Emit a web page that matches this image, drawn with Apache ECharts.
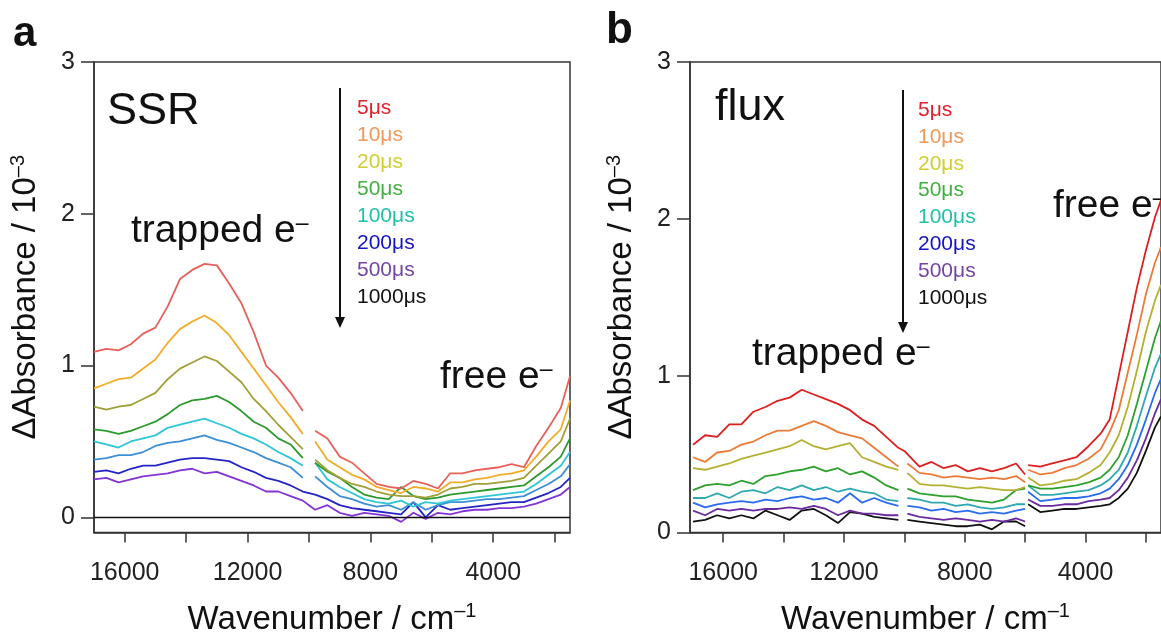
<!DOCTYPE html>
<html><head><meta charset="utf-8">
<script src="https://cdn.jsdelivr.net/npm/echarts@6/dist/echarts.min.js"></script>
<style>html,body{margin:0;padding:0;background:#fff}#c{width:1161px;height:641px}</style>
</head><body><div id="c"></div>
<script>
const FONT = '"Liberation Sans", Arial, Helvetica, sans-serif';

// ---- legend / delays ----
const delays = ['5μs', '10μs', '20μs', '50μs', '100μs', '200μs', '500μs', '1000μs'];
const legendColors = ['#e0202a', '#f0985a', '#cfcf30', '#40b040', '#20c0a8', '#1414c0', '#7444a4', '#111111'];
const ssrColors = ['#e8605a', '#f2ac2a', '#a0a038', '#2d9a2d', '#2ec5d5', '#3c8fd4', '#2424c4', '#8434d4'];
const fluxColors = ['#dc2020', '#ee7a38', '#b4b032', '#2ea02e', '#2fa8b0', '#2a6cf0', '#6a2aa0', '#111111'];

// ---- axis ticks ----
const xTicks = [16000, 14000, 12000, 10000, 8000, 6000, 4000, 2000];
const xLabels = [16000, 12000, 8000, 4000];
const yTicks = [0, 1, 2, 3];

// ---- panel a (SSR) ----
const wnA = [17000,16600,16200,15800,15400,15000,14600,14200,13800,13400,13000,12600,12200,11800,11400,11000,10600,10200,
  10000,
  9800,9400,9000,8600,8200,7800,7400,7000,6600,6200,5800,5400,5000,4600,4200,3800,3400,3000,2600,2200,1800,1500];
const ssr5 = [1.09,1.11,1.10,1.14,1.21,1.25,1.39,1.57,1.63,1.67,1.66,1.54,1.41,1.22,1.00,0.92,0.82,0.70, null,
  0.57,0.52,0.40,0.36,0.29,0.22,0.20,0.19,0.24,0.22,0.19,0.29,0.29,0.31,0.32,0.33,0.35,0.33,0.47,0.59,0.72,0.93];
const ssr10 = [0.85,0.88,0.91,0.92,0.98,1.04,1.15,1.24,1.29,1.33,1.28,1.20,1.09,0.98,0.87,0.76,0.66,0.55, null,
  0.50,0.38,0.33,0.28,0.25,0.20,0.18,0.16,0.20,0.19,0.17,0.23,0.23,0.25,0.26,0.28,0.29,0.31,0.40,0.50,0.58,0.77];
const ssr20 = [0.73,0.71,0.73,0.74,0.78,0.82,0.91,0.98,1.02,1.06,1.03,0.96,0.89,0.78,0.70,0.61,0.53,0.45, null,
  0.38,0.31,0.26,0.22,0.20,0.17,0.15,0.14,0.14,0.13,0.15,0.19,0.20,0.22,0.22,0.23,0.24,0.26,0.34,0.42,0.50,0.65];
const ssr50 = [0.58,0.57,0.55,0.57,0.60,0.63,0.68,0.74,0.77,0.78,0.80,0.76,0.70,0.63,0.59,0.52,0.48,0.39, null,
  0.36,0.30,0.26,0.20,0.15,0.13,0.12,0.20,0.14,0.12,0.13,0.15,0.16,0.17,0.18,0.19,0.20,0.21,0.27,0.33,0.40,0.52];
const ssr100 = [0.50,0.48,0.46,0.50,0.52,0.54,0.59,0.61,0.63,0.65,0.62,0.59,0.55,0.52,0.48,0.43,0.39,0.34, null,
  0.36,0.25,0.20,0.16,0.12,0.10,0.09,0.11,0.07,0.10,0.09,0.11,0.12,0.13,0.14,0.15,0.16,0.17,0.22,0.28,0.34,0.43];
const ssr200 = [0.38,0.39,0.41,0.41,0.43,0.47,0.49,0.50,0.52,0.54,0.51,0.49,0.46,0.43,0.39,0.36,0.33,0.26, null,
  0.27,0.20,0.14,0.12,0.09,0.07,0.08,0.05,0.10,0.05,0.08,0.10,0.10,0.11,0.12,0.12,0.13,0.14,0.18,0.22,0.27,0.35];
const ssr500 = [0.30,0.31,0.29,0.32,0.34,0.34,0.36,0.38,0.39,0.39,0.38,0.37,0.33,0.30,0.26,0.24,0.21,0.17, 0.16,
  0.15,0.12,0.08,0.06,0.05,0.04,0.03,0.02,0.10,0.00,0.08,0.05,0.06,0.07,0.08,0.09,0.10,0.10,0.13,0.16,0.20,0.26];
const ssr1000 = [0.25,0.26,0.23,0.25,0.27,0.28,0.29,0.31,0.32,0.29,0.30,0.27,0.24,0.21,0.17,0.17,0.14,0.11, 0.08,
  0.05,0.08,0.03,0.01,0.03,0.02,0.01,-0.03,0.03,-0.01,0.03,0.02,0.04,0.05,0.05,0.06,0.06,0.07,0.09,0.12,0.15,0.20];

// ---- panel b (flux) ----
const wnB = [17000,16600,16200,15800,15400,15000,14600,14200,13800,13400,13000,12600,12200,11800,11400,11000,10600,10200,
  10000,
  9900,9500,9100,8700,8300,7900,7500,7100,6700,6300,6000,
  5950,
  5900,5500,5100,4700,4300,3900,3500,3200,2900,2600,2300,2000,1700,1500];
const flux5 = [0.56,0.62,0.61,0.69,0.69,0.77,0.80,0.84,0.86,0.91,0.88,0.85,0.82,0.78,0.72,0.68,0.61,0.54, 0.52,
  0.50,0.42,0.45,0.41,0.43,0.39,0.41,0.39,0.41,0.44,0.37, null,
  0.43,0.42,0.44,0.46,0.48,0.55,0.63,0.72,1.00,1.28,1.56,1.80,2.01,2.12];
const flux10 = [0.48,0.45,0.51,0.52,0.56,0.58,0.62,0.65,0.65,0.68,0.71,0.68,0.64,0.62,0.60,0.54,0.48,0.42, null,
  0.44,0.38,0.37,0.35,0.36,0.35,0.34,0.35,0.34,0.36,0.32, null,
  0.40,0.37,0.38,0.41,0.43,0.47,0.53,0.64,0.78,1.02,1.26,1.52,1.72,1.82];
const flux20 = [0.41,0.40,0.42,0.44,0.47,0.49,0.51,0.53,0.55,0.59,0.55,0.53,0.55,0.57,0.48,0.45,0.42,0.40, null,
  0.38,0.31,0.30,0.30,0.29,0.28,0.29,0.28,0.27,0.27,0.29, null,
  0.35,0.30,0.31,0.33,0.34,0.38,0.43,0.51,0.62,0.80,1.03,1.28,1.48,1.58];
const flux50 = [0.27,0.30,0.31,0.30,0.33,0.31,0.36,0.37,0.39,0.40,0.42,0.39,0.41,0.37,0.39,0.35,0.30,0.27, null,
  0.28,0.25,0.24,0.23,0.23,0.21,0.20,0.19,0.21,0.27,0.28, null,
  0.30,0.28,0.28,0.29,0.30,0.32,0.35,0.40,0.48,0.62,0.82,1.03,1.24,1.35];
const flux100 = [0.22,0.22,0.25,0.22,0.26,0.27,0.25,0.29,0.27,0.30,0.27,0.29,0.26,0.28,0.26,0.25,0.21,0.20, null,
  0.22,0.21,0.19,0.19,0.17,0.18,0.16,0.15,0.16,0.18,0.18, null,
  0.30,0.24,0.24,0.25,0.26,0.27,0.30,0.34,0.40,0.51,0.68,0.87,1.05,1.14];
const flux200 = [0.19,0.16,0.18,0.19,0.20,0.19,0.21,0.20,0.22,0.23,0.21,0.22,0.19,0.25,0.19,0.22,0.19,0.17, null,
  0.17,0.16,0.14,0.15,0.13,0.14,0.12,0.13,0.12,0.14,0.15, null,
  0.26,0.20,0.21,0.22,0.22,0.23,0.25,0.28,0.34,0.43,0.56,0.72,0.89,0.98];
const flux500 = [0.14,0.11,0.15,0.14,0.15,0.14,0.15,0.15,0.16,0.15,0.17,0.15,0.11,0.14,0.12,0.12,0.11,0.11, null,
  0.12,0.10,0.09,0.08,0.09,0.08,0.07,0.08,0.07,0.09,0.07, null,
  0.21,0.17,0.17,0.18,0.18,0.20,0.21,0.22,0.27,0.35,0.46,0.60,0.76,0.85];
const flux1000 = [0.07,0.08,0.11,0.09,0.11,0.09,0.14,0.11,0.08,0.14,0.15,0.11,0.06,0.13,0.12,0.10,0.09,0.08, null,
  0.08,0.07,0.06,0.05,0.04,0.04,0.05,0.02,0.07,0.07,0.04, null,
  0.18,0.13,0.14,0.15,0.15,0.16,0.17,0.18,0.22,0.28,0.38,0.52,0.67,0.74];

const ssrSeries = [ssr5, ssr10, ssr20, ssr50, ssr100, ssr200, ssr500, ssr1000];
const fluxSeries = [flux5, flux10, flux20, flux50, flux100, flux200, flux500, flux1000];

// ---- build ----
const AX = '#333';
const nameRich = {
  n: { fontSize: 33, fontFamily: FONT, color: '#111', lineHeight: 36 },
  s: { fontSize: 20, fontFamily: FONT, color: '#111', verticalAlign: 'top', lineHeight: 20 }
};
function xAxis(gi, max) {
  return {
    type: 'value', gridIndex: gi, min: 1500, max: max, inverse: true,
    axisLine: { show: true, onZero: false, lineStyle: { color: AX, width: 1.5 } },
    axisTick: { show: true, length: 10, customValues: xTicks, lineStyle: { color: AX, width: 1.5 } },
    axisLabel: { customValues: xLabels, fontSize: 25, color: '#222', fontFamily: FONT, margin: 28,
      formatter: v => String(v) },
    splitLine: { show: false },
    name: '{n|Wavenumber / cm}{s|–1}', nameLocation: 'middle', nameGap: 69,
    nameTextStyle: { rich: nameRich }
  };
}
function yAxis(gi, min) {
  return {
    type: 'value', gridIndex: gi, min: min, max: 3,
    axisLine: { show: true, onZero: false, lineStyle: { color: AX, width: 1.5 } },
    axisTick: { show: true, length: 13, customValues: yTicks, lineStyle: { color: AX, width: 1.5 } },
    axisLabel: { customValues: yTicks, fontSize: 25, color: '#222', fontFamily: FONT, margin: 19,
      formatter: v => String(v) },
    splitLine: { show: false },
    name: '{n|ΔAbsorbance / 10}{s|–3}', nameLocation: 'middle', nameGap: 50, nameRotate: 90,
    nameTextStyle: { rich: nameRich }
  };
}
const series = [];
ssrSeries.forEach((vals, i) => {
  const s = {
    type: 'line', xAxisIndex: 0, yAxisIndex: 0, name: 'SSR ' + delays[i],
    data: wnA.map((w, k) => [w, vals[k]]), showSymbol: false, connectNulls: false,
    lineStyle: { color: ssrColors[i], width: 1.8 }, itemStyle: { color: ssrColors[i] },
    z: 10 - i, silent: true
  };
  if (i === 0) s.markLine = { silent: true, symbol: 'none', label: { show: false },
    lineStyle: { color: '#111', width: 1.3, type: 'solid' }, data: [{ yAxis: 0 }] };
  series.push(s);
});
fluxSeries.forEach((vals, i) => {
  series.push({
    type: 'line', xAxisIndex: 1, yAxisIndex: 1, name: 'flux ' + delays[i],
    data: wnB.map((w, k) => [w, vals[k]]), showSymbol: false, connectNulls: false,
    lineStyle: { color: fluxColors[i], width: 1.8 }, itemStyle: { color: fluxColors[i] },
    z: 10 - i, silent: true
  });
});

function txt(x, y, text, size, opts) {
  opts = opts || {};
  return { type: 'text', x: x, y: y, silent: true, style: Object.assign({
    text: text, fill: opts.fill || '#111', fontSize: size, fontFamily: FONT,
    fontWeight: opts.bold ? 'bold' : 'normal', verticalAlign: opts.va || 'top', align: 'left'
  }, opts.rich ? { rich: opts.rich } : {}) };
}
function eText(x, y, base, size) {
  return txt(x, y, '{n|' + base + '}{s|–}', size, { rich: {
    n: { fontSize: size, fontFamily: FONT, fill: '#111', lineHeight: size },
    s: { fontSize: Math.round(size * 0.6), fontFamily: FONT, fill: '#111', verticalAlign: 'top', lineHeight: Math.round(size * 0.6) }
  } });
}
function arrow(x, y1, y2) {
  return [
    { type: 'line', silent: true, shape: { x1: x, y1: y1, x2: x, y2: y2 - 8 }, style: { stroke: '#111', lineWidth: 2 } },
    { type: 'polygon', silent: true, shape: { points: [[x - 5, y2 - 11], [x + 5, y2 - 11], [x, y2]] }, style: { fill: '#111' } }
  ];
}
const graphic = [
  txt(13, 13, 'a', 42, { bold: true }),
  txt(606, 9, 'b', 44, { bold: true }),
  txt(107, 89, 'SSR', 45),
  txt(715, 85, 'flux', 45),
  eText(131, 212, 'trapped e', 39),
  eText(752, 335, 'trapped e', 39),
  eText(440, 358, 'free e', 39),
  eText(1053, 187, 'free e', 39),
  ...arrow(340, 88, 328),
  ...arrow(903, 90, 333)
];
delays.forEach((d, i) => {
  graphic.push(txt(357, 108 + i * 27.1, d, 21, { fill: legendColors[i], va: 'middle' }));
  graphic.push(txt(918, 110 + i * 26.9, d, 21, { fill: legendColors[i], va: 'middle' }));
});

const chart = echarts.init(document.getElementById('c'), null, { renderer: 'canvas' });
chart.setOption({
  animation: false,
  backgroundColor: '#fff',
  textStyle: { fontFamily: FONT },
  grid: [
    { left: 94, top: 62, width: 476, height: 476, show: true, borderColor: AX, borderWidth: 1.5, containLabel: false },
    { left: 690, top: 62, width: 478, height: 476, show: true, borderColor: AX, borderWidth: 1.5, containLabel: false }
  ],
  xAxis: [xAxis(0, 17000), xAxis(1, 17100)],
  yAxis: [yAxis(0, -0.1), yAxis(1, 0)],
  series: series,
  graphic: graphic
});
</script></body></html>
